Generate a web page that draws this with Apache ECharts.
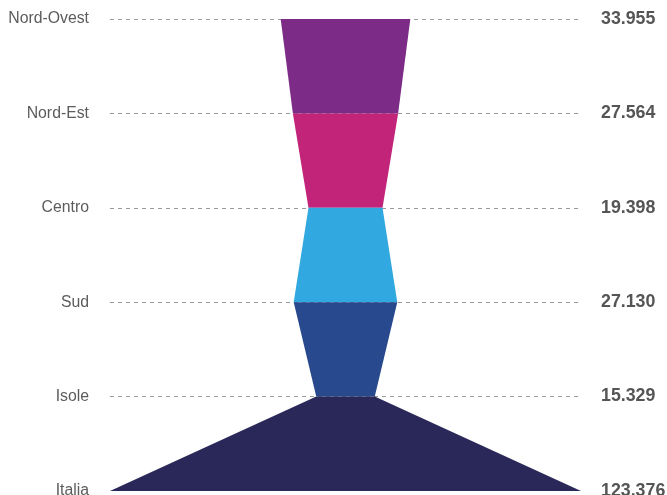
<!DOCTYPE html>
<html><head><meta charset="utf-8">
<script src="https://cdn.jsdelivr.net/npm/echarts@6/dist/echarts.min.js"></script>
<style>html,body{margin:0;padding:0;background:#fff}#c{width:667px;height:495px}</style>
</head><body><div id="c"></div>
<script>
const categories = ['Nord-Ovest','Nord-Est','Centro','Sud','Isole','Italia'];
const values = [33955, 27564, 19398, 27130, 15329, 123376];
const colors = ['#7C2C86','#C12479','#31A8E0','#29498E','#2A2858'];

function fmt(v){ return String(v).replace(/\B(?=(\d{3})+(?!\d))/g,'.'); }
const half = Math.max(...values)/2;
const bands = [];
for (let i=0;i<values.length-1;i++) bands.push([i, values[i], values[i+1]]);

const chart = echarts.init(document.getElementById('c'), null, {renderer:'canvas'});
chart.setOption({
  animation:false,
  grid:{left:110, right:86, top:19, bottom:4, outerBoundsMode:'none', containLabel:false},
  xAxis:{type:'value', min:-half, max:half, show:false},
  yAxis:[{
    type:'category', data:categories, inverse:true, boundaryGap:false,
    axisLine:{show:false}, axisTick:{show:false},
    axisLabel:{color:'#5c5c5c', fontSize:15.8, fontFamily:'Liberation Sans, Arial, sans-serif', margin:21},
    splitLine:{show:true, interval:(idx)=>idx<categories.length-1, lineStyle:{color:'#999', type:[4,4], width:1}}
  },{
    type:'category', data:categories, inverse:true, boundaryGap:false, position:'right',
    axisLine:{show:false}, axisTick:{show:false},
    axisLabel:{color:'#555', fontSize:17.8, fontWeight:'bold', fontFamily:'Liberation Sans, Arial, sans-serif', margin:20, align:'left',
      formatter:(v, idx)=>fmt(values[idx])}
  }],
  series:[{
    type:'custom',
    data:bands,
    renderItem:(params, api)=>{
      const i = api.value(0), a = api.value(1)/2, b = api.value(2)/2;
      const p1 = api.coord([-a, i]), p2 = api.coord([a, i]);
      const p3 = api.coord([b, i+1]), p4 = api.coord([-b, i+1]);
      return {type:'polygon', shape:{points:[p1,p2,p3,p4]}, style:{fill:colors[params.dataIndex]}};
    },
    encode:{x:[1,2], y:0}
  }]
});
</script></body></html>
